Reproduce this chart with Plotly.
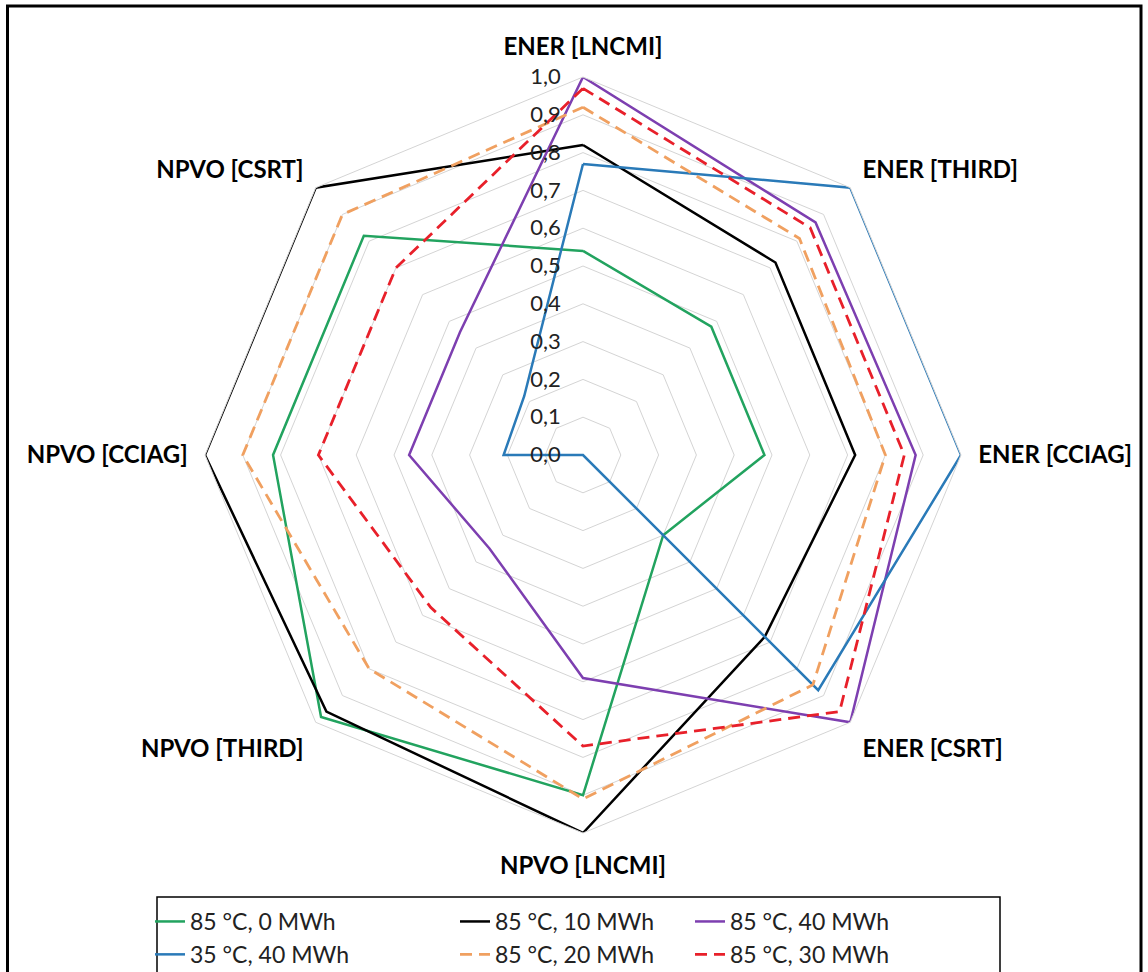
import plotly.graph_objects as go

# Criteria around the radar (clockwise from the top)
categories = ["ENER [LNCMI]", "ENER [THIRD]", "ENER [CCIAG]", "ENER [CSRT]",
              "NPVO [LNCMI]", "NPVO [THIRD]", "NPVO [CCIAG]", "NPVO [CSRT]"]

# Normalised scores per scenario
s85_0 = [0.54, 0.48, 0.48, 0.30, 0.90, 0.98, 0.82, 0.82]
s85_10 = [0.82, 0.72, 0.72, 0.68, 1.00, 0.96, 1.00, 1.00]
s85_40 = [1.00, 0.87, 0.88, 1.00, 0.59, 0.35, 0.46, 0.46]
s35_40 = [0.77, 1.00, 1.00, 0.88, 0.00, 0.00, 0.21, 0.22]
s85_20 = [0.92, 0.81, 0.80, 0.86, 0.91, 0.80, 0.90, 0.90]
s85_30 = [0.97, 0.85, 0.85, 0.96, 0.77, 0.57, 0.70, 0.70]

# name, values, colour, dash, width, legend column
series = [
    ("85 °C, 0 MWh", s85_0, "#22a35f", "solid", 2.5, "legend"),
    ("85 °C, 10 MWh", s85_10, "#000000", "solid", 2.5, "legend2"),
    ("85 °C, 40 MWh", s85_40, "#7d3fb0", "solid", 2.5, "legend3"),
    ("35 °C, 40 MWh", s35_40, "#2a7ab8", "solid", 2.5, "legend"),
    ("85 °C, 20 MWh", s85_20, "#f0a060", "12px,7px", 2.8, "legend2"),
    ("85 °C, 30 MWh", s85_30, "#e8202a", "12px,7px", 2.8, "legend3"),
]

radial_ticks = [i / 10 for i in range(11)]

fig = go.Figure()
for i, (name, vals, color, dash, width, leg) in enumerate(series):
    fig.add_trace(go.Scatterpolar(
        r=vals + vals[:1],
        theta=categories + categories[:1],
        mode="lines",
        name=name,
        legend=leg,
        legendgroup=f"g{i}",
        line=dict(color=color, width=width, dash=dash),
    ))

W, H = 1148, 972
cx, cy, R = 583, 455, 378

legend_font = dict(size=23, color="#222222", family="Lato, 'Open Sans', sans-serif")


def legend_column(x_px):
    # each column holds two entries
    return dict(
        orientation="v",
        x=x_px / W, xanchor="left",
        y=1 - 900 / H, yanchor="top",
        font=legend_font,
        borderwidth=0,
        bgcolor="rgba(0,0,0,0)",
        traceorder="grouped",
        tracegroupgap=0,
        itemwidth=30,
    )


fig.update_layout(
    width=W, height=H,
    margin=dict(l=0, r=0, t=0, b=0, autoexpand=False),
    paper_bgcolor="white",
    separators=",.",
    font=dict(family="Lato, 'Open Sans', sans-serif", color="#000000"),
    polar=dict(
        domain=dict(x=[(cx - R) / W, (cx + R) / W],
                    y=[(H - cy - R) / H, (H - cy + R) / H]),
        gridshape="linear",
        bgcolor="white",
        radialaxis=dict(
            range=[0, 1],
            tickvals=radial_ticks,
            tickformat=".1f",
            angle=90,
            tickangle=90,
            side="counterclockwise",
            showline=False,
            ticks="outside",
            ticklen=14,
            tickcolor="rgba(0,0,0,0)",
            gridcolor="#d4d4d4",
            gridwidth=1,
            tickfont=dict(size=22, color="#222222"),
        ),
        angularaxis=dict(
            rotation=90,
            direction="clockwise",
            showgrid=False,
            showline=True,
            linecolor="#d4d4d4",
            linewidth=1,
            ticks="outside",
            ticklen=12,
            tickcolor="rgba(0,0,0,0)",
            tickfont=dict(size=24, color="#000000", family="Lato, sans-serif", weight="bold"),
        ),
    ),
    showlegend=True,
    legend=legend_column(150),
    legend2=legend_column(455),
    legend3=legend_column(690),
    shapes=[
        # outer chart frame
        dict(type="rect", xref="paper", yref="paper",
             x0=7.5 / W, x1=1141 / W, y0=-0.05, y1=1 - 6 / H,
             line=dict(color="#000000", width=3), layer="below"),
        # legend frame
        dict(type="rect", xref="paper", yref="paper",
             x0=157 / W, x1=1000 / W, y0=-0.05, y1=1 - 897 / H,
             line=dict(color="#000000", width=1.5), layer="below"),
    ],
)

fig.write_html("out.html")
